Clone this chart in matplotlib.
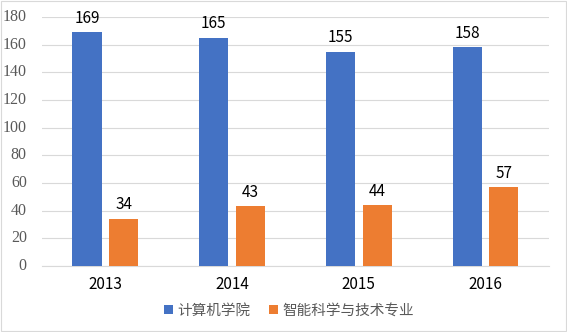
import matplotlib
matplotlib.use("Agg")
import matplotlib.pyplot as plt
import numpy as np
from matplotlib.patches import Rectangle

plt.rcParams['font.family'] = ['Noto Sans CJK SC', 'DejaVu Sans']

years = ['2013', '2014', '2015', '2016']
series_names = ['计算机学院', '智能科学与技术专业']
cs_values = [169, 165, 155, 158]
ai_values = [34, 43, 44, 57]
colors = ['#4472C4', '#ED7D31']

fig = plt.figure(figsize=(5.67, 3.32), dpi=100)
ax = fig.add_axes([0.074, 0.199, 0.894, 0.75])

x = np.arange(len(years))
w = 0.23
off = 0.145
b1 = ax.bar(x - off, cs_values, w, color=colors[0], label=series_names[0], zorder=3)
b2 = ax.bar(x + off, ai_values, w, color=colors[1], label=series_names[1], zorder=3)

for bars, vals in ((b1, cs_values), (b2, ai_values)):
    for r, v in zip(bars, vals):
        ax.text(r.get_x() + r.get_width() / 2, v + 4, str(v), ha='center', va='bottom',
                fontsize=11, color='black')

ax.set_xlim(-0.5, 3.5)
ax.set_ylim(0, 180)
ax.set_yticks(range(0, 181, 20))
ax.set_yticklabels([])
for v in range(0, 181, 20):
    ax.text(-0.03, v, str(v), transform=ax.get_yaxis_transform(), ha='right', va='center',
            fontfamily='Liberation Serif', fontsize=11.5, color='#595959')
ax.tick_params(axis='y', length=0)
ax.set_xticks(x)
ax.set_xticklabels(years)
ax.tick_params(axis='x', labelsize=11, labelcolor='black', length=0, pad=7)
ax.grid(axis='y', color='#D9D9D9', linewidth=0.8, zorder=0)
for s in ['top', 'right', 'left']:
    ax.spines[s].set_visible(False)
ax.spines['bottom'].set_color('#D9D9D9')
ax.spines['bottom'].set_linewidth(0.8)

leg = fig.legend(handles=[b1, b2], loc='center', bbox_to_anchor=(0.51, 0.065), ncol=2,
                 frameon=False, fontsize=10.5, handlelength=0.6, handleheight=0.6,
                 handletextpad=0.3, columnspacing=1.3)
for t in leg.get_texts():
    t.set_color('#595959')

fig.patches.append(Rectangle((0.002, 0.003), 0.996, 0.994, transform=fig.transFigure,
                             fill=False, edgecolor='#D9D9D9', linewidth=0.8))

fig.savefig('out.png', dpi=100)
